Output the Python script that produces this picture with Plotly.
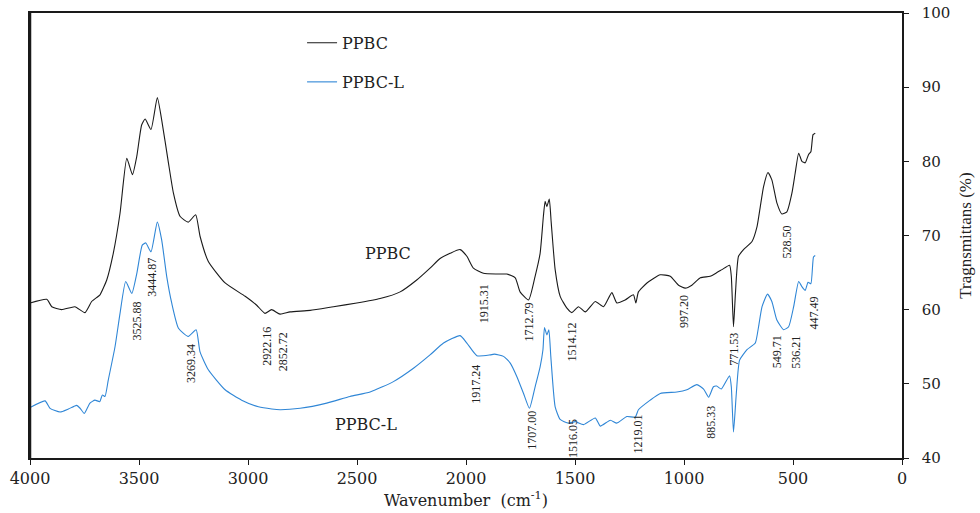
import plotly.graph_objects as go

# ---------------- data ----------------
PPBC_WN = [
    4000, 3923, 3900, 3855, 3794, 3748, 3717, 3679, 3664, 3648,
    3618, 3587, 3556, 3530, 3510, 3488, 3472, 3445, 3416, 3396,
    3365, 3342, 3312, 3274, 3240, 3220, 3182, 3105, 3013, 2960,
    2922, 2892, 2853, 2807, 2715, 2608, 2501, 2394, 2302, 2226,
    2165, 2119, 2073, 2027, 1996, 1966, 1920, 1858, 1813, 1774,
    1752, 1713, 1683, 1660, 1645, 1637, 1629, 1618, 1609, 1591,
    1568, 1537, 1514, 1484, 1453, 1407, 1369, 1331, 1308, 1270,
    1232, 1221, 1209, 1170, 1109, 1063, 1025, 994, 964, 925,
    880, 849, 826, 791, 783, 773, 764, 750, 727, 688,
    665, 650, 635, 615, 597, 574, 551, 528, 505, 490,
    474, 459, 444, 429, 418, 408, 398,
]
PPBC_T = [
    60.9, 61.4, 60.4, 60.0, 60.4, 59.6, 61.1, 62.0, 62.9, 64.0,
    67.6, 73.0, 80.4, 78.2, 80.7, 84.9, 85.7, 84.3, 88.6, 85.6,
    79.8, 75.7, 72.6, 71.8, 72.8, 69.9, 66.5, 63.6, 61.8, 60.6,
    59.5, 60.0, 59.4, 59.7, 59.9, 60.4, 60.9, 61.5, 62.4, 64.0,
    65.6, 66.9, 67.6, 68.1, 67.2, 65.6, 64.9, 64.8, 64.8, 64.3,
    62.4, 61.3, 64.5, 67.6, 72.6, 74.6, 73.9, 74.9, 71.7, 65.4,
    61.8, 60.2, 59.6, 60.4, 59.7, 61.1, 60.4, 62.3, 60.9, 61.3,
    62.0, 60.9, 62.4, 63.6, 64.7, 64.5, 63.3, 62.9, 63.3, 64.3,
    64.5, 65.0, 65.4, 66.0, 64.5, 57.7, 62.2, 67.2, 68.1, 69.2,
    71.2, 73.9, 76.6, 78.5, 77.5, 74.4, 72.9, 73.2, 75.7, 78.4,
    81.1, 80.0, 79.8, 80.9, 81.3, 83.6, 83.8,
]

PPBCL_WN = [
    4000, 3931, 3908, 3862, 3824, 3786, 3770, 3751, 3725, 3702,
    3680, 3668, 3656, 3641, 3610, 3587, 3561, 3533, 3510, 3485,
    3469, 3445, 3416, 3396, 3373, 3350, 3319, 3274, 3238, 3220,
    3182, 3105, 3029, 2952, 2891, 2853, 2761, 2639, 2532, 2440,
    2333, 2241, 2165, 2103, 2027, 1996, 1950, 1889, 1870, 1828,
    1797, 1767, 1736, 1709, 1683, 1660, 1647, 1640, 1629, 1620,
    1611, 1591, 1568, 1530, 1499, 1461, 1407, 1384, 1338, 1308,
    1262, 1224, 1209, 1155, 1109, 1033, 987, 941, 910, 887,
    865, 850, 829, 791, 783, 773, 760, 745, 711, 673,
    658, 642, 617, 597, 574, 543, 520, 497, 474, 459,
    444, 431, 418, 406, 398,
]
PPBCL_T = [
    46.8, 47.7, 46.7, 46.2, 46.6, 47.1, 46.7, 46.0, 47.4, 47.8,
    47.6, 48.5, 48.3, 50.5, 55.0, 59.5, 63.8, 62.2, 64.9, 68.7,
    69.0, 67.8, 71.8, 69.4, 64.5, 60.9, 57.5, 56.4, 57.3, 54.3,
    51.9, 49.2, 47.8, 46.9, 46.6, 46.5, 46.7, 47.4, 48.3, 48.9,
    50.3, 52.1, 53.9, 55.5, 56.5, 55.5, 53.8, 53.9, 54.0, 53.7,
    52.8, 51.0, 48.7, 46.7, 49.6, 52.3, 54.6, 57.6, 56.6, 57.3,
    53.7, 46.9, 45.2, 44.7, 44.9, 44.5, 45.4, 44.3, 45.1, 44.7,
    45.6, 45.5, 46.5, 47.8, 48.7, 48.9, 49.2, 49.9, 49.3, 48.2,
    49.6, 49.7, 49.3, 51.1, 49.6, 43.5, 48.7, 53.2, 54.6, 55.5,
    57.7, 60.4, 62.1, 61.1, 58.6, 57.3, 57.7, 60.4, 63.8, 63.1,
    62.6, 63.7, 63.5, 67.1, 67.3,
]

SERIES_NAMES = ["PPBC", "PPBC-L"]
X_TICKS = [4000, 3500, 3000, 2500, 2000, 1500, 1000, 500, 0]
Y_TICKS = [40, 50, 60, 70, 80, 90, 100]

# peak labels: (text, wavenumber, transmittance) of the label centre
PEAK_LABELS = [
    ("3525.88", 3510, 58.5), ("3444.87", 3440, 64.3), ("3269.34", 3261, 52.7),
    ("2922.16", 2914, 55.1), ("2852.72", 2838, 54.3), ("1915.31", 1920, 60.8),
    ("1917.24", 1958, 49.9), ("1712.79", 1710, 58.3), ("1514.12", 1514, 55.7),
    ("997.20", 999, 59.7), ("771.53", 770, 54.6), ("528.50", 526, 69.1),
    ("549.71", 572, 54.3), ("536.21", 490, 54.2), ("447.49", 403, 59.5),
    ("1707.00", 1701, 43.7), ("1516.05", 1512, 42.6), ("1219.01", 1210, 43.2),
    ("885.33", 875, 44.8),
]
CURVE_LABELS = [("PPBC", 2357, 67.6), ("PPBC-L", 2458, 44.5)]

# ---------------- styling ----------------
BLACK = "#1a1a1a"
BLUE = "#2f86d6"
SERIF = "Liberation Serif, Times New Roman, serif"
WIDE_SERIF = "DejaVu Serif, serif"

fig = go.Figure()
fig.add_trace(go.Scatter(x=PPBC_WN, y=PPBC_T, mode="lines", name=SERIES_NAMES[0],
                         line=dict(color=BLACK, width=1.1, shape="spline", smoothing=0.5),
                         legend="legend", showlegend=True))
fig.add_trace(go.Scatter(x=PPBCL_WN, y=PPBCL_T, mode="lines", name=SERIES_NAMES[1],
                         line=dict(color=BLUE, width=1.1, shape="spline", smoothing=0.5),
                         legend="legend2", showlegend=True))

for text, xv, yv in PEAK_LABELS:
    fig.add_annotation(x=xv, y=yv, xref="x", yref="y", text=text, showarrow=False,
                       textangle=-90, font=dict(family=SERIF, size=12, color="#222"))
for text, xv, yv in CURVE_LABELS:
    fig.add_annotation(x=xv, y=yv, xref="x", yref="y", text=text, showarrow=False,
                       font=dict(family=WIDE_SERIF, size=16, color="#222"))

# thicker left frame edge
fig.add_shape(type="line", xref="paper", yref="paper", x0=0, x1=0, y0=0, y1=1,
              line=dict(color=BLACK, width=2.5))

legend_common = dict(xanchor="left", yanchor="middle", bgcolor="rgba(0,0,0,0)",
                     borderwidth=0, font=dict(family=WIDE_SERIF, size=16, color="#222"))
fig.update_layout(
    width=980, height=513,
    margin=dict(l=30, r=78, t=13, b=55, autoexpand=False),
    showlegend=True,
    plot_bgcolor="white", paper_bgcolor="white",
    legend=dict(x=0.312, y=0.933, **legend_common),
    legend2=dict(x=0.312, y=0.845, **legend_common),
    xaxis=dict(
        range=[4000, 0], tickvals=X_TICKS, ticktext=[str(v) for v in X_TICKS],
        showgrid=False, zeroline=False, showline=True, linecolor=BLACK, linewidth=1.5,
        mirror=True, ticks="outside", ticklen=5, tickcolor=BLACK, automargin=False,
        tickfont=dict(family=WIDE_SERIF, size=16, color="#222"),
        title=dict(text="Wavenumber  (cm<sup>-1</sup>)", standoff=8,
                   font=dict(family=WIDE_SERIF, size=16, color="#222")),
    ),
    yaxis=dict(
        range=[40, 100], tickvals=Y_TICKS, side="right",
        showgrid=False, zeroline=False, showline=True, linecolor=BLACK, linewidth=1.5,
        mirror=True, ticks="outside", ticklen=5, tickcolor=BLACK, automargin=False,
        ticklabelstandoff=10,
        tickfont=dict(family=WIDE_SERIF, size=15, color="#222"),
        title=dict(text="Tragnsmittans (%)", standoff=10,
                   font=dict(family=SERIF, size=17, color="#222")),
    ),
)

fig.write_html("out.html", config={"displayModeBar": False},
               post_script="document.body.style.margin='0';")
